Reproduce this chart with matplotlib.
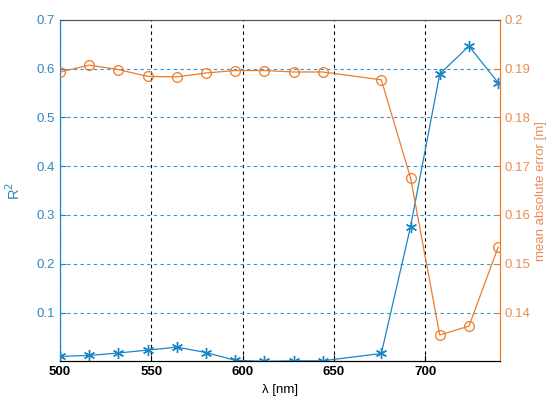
import matplotlib
matplotlib.use('Agg')
import matplotlib.pyplot as plt

# wavelengths [nm]
wavelength = [500, 516, 532, 548, 564, 580, 596, 612, 628, 644, 676, 692, 708, 724, 740]
# R^2 (left axis)
r2 = [0.010, 0.012, 0.017, 0.023, 0.029, 0.018, 0.002, 0.000, 0.001, 0.001,
      0.016, 0.276, 0.589, 0.646, 0.571]
# mean absolute error [m] (right axis)
mae = [0.1893, 0.1907, 0.1898, 0.1884, 0.1883, 0.1891, 0.1896, 0.1896, 0.1893, 0.1893,
       0.1877, 0.1676, 0.1354, 0.1372, 0.1534]

xticks = [500, 550, 600, 650, 700]
left_ticks = [0.1, 0.2, 0.3, 0.4, 0.5, 0.6, 0.7]
right_ticks = [0.14, 0.15, 0.16, 0.17, 0.18, 0.19, 0.2]

blue = '#1A86C6'
orange = '#EE7A2A'
orange_txt = '#E98C55'
blue_txt = '#2E86C1'

plt.rcParams['font.family'] = ['Liberation Sans', 'DejaVu Sans']

fig = plt.figure(figsize=(5.48, 4.04), dpi=100)
ax = fig.add_axes([0.1095, 0.1057, 0.8029, 0.8453])
ax2 = ax.twinx()

ax.set_xlim(500, 741)
ax.set_ylim(0, 0.7)
ax2.set_ylim(0.13, 0.2)

# grid lines: vertical black dashed, horizontal blue dashed
for x in xticks:
    ax.axvline(x, color='black', ls=(0, (3, 3)), lw=0.8, zorder=1)
for y in left_ticks[:-1]:
    ax.axhline(y, color='#2F96D6', ls=(0, (3, 3)), lw=0.8, zorder=1)

ax.plot(wavelength, r2, color=blue, lw=0.9, marker=(6, 2, 0), ms=8,
        markeredgewidth=1.0, zorder=3)
ax2.plot(wavelength, mae, color=orange, lw=0.9, marker='o', ms=7,
         markerfacecolor='none', markeredgewidth=0.9, zorder=3)

ax.set_xticks(xticks)
ax.set_xticklabels([str(x) for x in xticks], fontsize=9.5, fontweight='bold')
ax.set_yticks(left_ticks)
ax.set_yticklabels([('%g' % v) for v in left_ticks], fontsize=9.5, color=blue_txt)
ax2.set_yticks(right_ticks)
ax2.set_yticklabels([('%g' % v) for v in right_ticks], fontsize=9.5, color=orange_txt)

ax.tick_params(axis='both', direction='in', length=4)
ax.tick_params(axis='y', colors=blue, labelcolor=blue_txt)
ax.tick_params(axis='x', colors='black')
ax2.tick_params(axis='y', direction='in', length=4, colors=orange, labelcolor=orange_txt)

ax.set_xlabel('λ [nm]', fontsize=9.5, labelpad=4)
ax.set_ylabel('R$^2$', fontsize=10.5, color=blue_txt, labelpad=10)
ax2.set_ylabel('mean absolute error [m]', fontsize=9.5, color=orange_txt, labelpad=3)

for a in (ax, ax2):
    a.spines['top'].set_color('#555555')
    a.spines['bottom'].set_color('black')
    a.spines['left'].set_color(blue)
    a.spines['right'].set_color(orange)

fig.savefig('out.png', dpi=100)
